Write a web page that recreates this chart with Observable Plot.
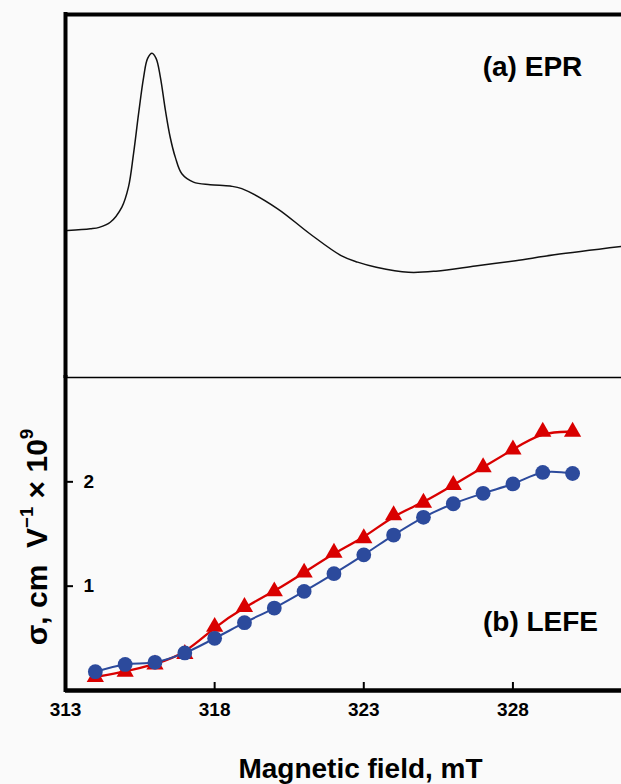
<!DOCTYPE html>
<html><head><meta charset="utf-8">
<script src="https://cdn.jsdelivr.net/npm/d3@7"></script>
<script src="https://cdn.jsdelivr.net/npm/@observablehq/plot@0.6"></script>
<style>
html,body{margin:0;padding:0;background:#fafafa;}
#wrap{position:relative;width:621px;height:784px;overflow:hidden;font-family:"Liberation Sans",Arial,sans-serif;}
#wrap svg{display:block;}
#ylab{position:absolute;left:37px;top:537px;transform:translate(-50%,-50%) rotate(-90deg);white-space:nowrap;font-weight:bold;font-size:30px;line-height:1;color:#000;}
#ylab sup{font-size:0.62em;vertical-align:0.75em;line-height:0;}
</style></head><body><div id="wrap"></div>
<script>
// EPR spectrum (panel a), arbitrary intensity units
const eprField = [313.07,313.83,314.13,314.50,314.89,315.11,315.28,315.45,315.62,315.75,315.90,316.04,316.18,316.35,316.51,316.68,316.90,317.29,317.85,318.52,318.91,320.10,321.18,322.24,322.79,323.42,324.50,325.42,326.74,328.09,329.39,331.64];
const eprSignal = [40.3,40.8,41.2,42.6,46.8,52.3,61.5,72.6,82.7,87.8,89.3,87.8,82.7,73.5,66.1,60.6,56.0,53.7,53.0,52.6,51.9,46.4,39.5,33.4,31.6,30.2,28.8,29.1,30.5,32.0,33.6,35.9];

// LEFE (panel b)
const lefeField = [314,315,316,317,318,319,320,321,322,323,324,325,326,327,328,329,330];
const lefeCircle = [0.18,0.25,0.27,0.36,0.50,0.65,0.79,0.95,1.12,1.30,1.49,1.66,1.79,1.89,1.98,2.09,2.08];
const lefeTriangle = [0.13,0.18,0.25,0.35,0.61,0.80,0.95,1.13,1.32,1.46,1.68,1.80,1.97,2.14,2.31,2.48,2.48];

const xTicks = [313,318,323,328];
const yTicks = [1,2];
const xDomain = [313, 331.64];
const eprDomain = [0, 100];
const lefeDomain = [0, 3];

const labelA = "(a) EPR";
const labelB = "(b) LEFE";
const xLabel = "Magnetic field, mT";

const epr = eprField.map((B, i) => ({B, I: eprSignal[i]}));
const lefe = lefeField.map((B, i) => ({B, c: lefeCircle[i], t: lefeTriangle[i]}));

const FONT = "Liberation Sans, Arial, sans-serif";
const RED = "#d90000", BLUE = "#2c4a9c";

const topPlot = Plot.plot({
  width: 621, height: 376,
  marginTop: 14, marginBottom: 0, marginLeft: 65, marginRight: 0,
  x: {domain: xDomain, axis: null},
  y: {domain: eprDomain, axis: null},
  style: {background: "transparent", fontFamily: FONT, overflow: "visible"},
  marks: [
    Plot.line(epr, {x: "B", y: "I", stroke: "#111", strokeWidth: 1.5, curve: "catmull-rom"}),
    Plot.ruleY([eprDomain[1]], {stroke: "#000", strokeWidth: 4}),
    Plot.ruleX([xDomain[0]], {stroke: "#000", strokeWidth: 4, strokeLinecap: "square"}),
    Plot.text([labelA], {frameAnchor: "top-right", dx: -89, dy: 53, textAnchor: "middle", lineAnchor: "middle", fontSize: 28, fontWeight: "bold", fill: "#000"})
  ]
});

const lowPlot = Plot.plot({
  width: 621, height: 408,
  marginTop: 1, marginBottom: 94, marginLeft: 65, marginRight: 0,
  x: {domain: xDomain},
  y: {domain: lefeDomain},
  style: {background: "transparent", fontFamily: FONT, overflow: "visible"},
  marks: [
    Plot.ruleY([lefeDomain[1]], {stroke: "#000", strokeWidth: 1.3}),
    Plot.axisX(xTicks, {anchor: "bottom", tickSize: 8, dy: -8, strokeWidth: 2, fill: "none", label: null}),
    Plot.axisX(xTicks, {anchor: "bottom", tickSize: 0, tickPadding: 12, tickFormat: (d) => String(d), fontSize: 19, fontWeight: "bold", fill: "#000", label: null}),
    Plot.axisY(yTicks, {anchor: "left", tickSize: 8, dx: 8, strokeWidth: 2, fill: "none", label: null}),
    Plot.axisY(yTicks, {anchor: "left", tickSize: 0, tickPadding: 0, dx: 18, textAnchor: "start", tickFormat: (d) => String(d), fontSize: 19, fontWeight: "bold", fill: "#000", label: null}),
    Plot.line(lefe, {x: "B", y: "t", stroke: RED, strokeWidth: 2.3, curve: "basis"}),
    Plot.dot(lefe, {x: "B", y: "t", symbol: "triangle", r: 6.4, fill: RED, stroke: "none"}),
    Plot.line(lefe, {x: "B", y: "c", stroke: BLUE, strokeWidth: 2, curve: "catmull-rom"}),
    Plot.dot(lefe, {x: "B", y: "c", r: 7.4, fill: BLUE, stroke: "none"}),
    Plot.ruleY([lefeDomain[0]], {stroke: "#000", strokeWidth: 4.5}),
    Plot.ruleX([xDomain[0]], {stroke: "#000", strokeWidth: 4, strokeLinecap: "square"}),
    Plot.text([labelB], {frameAnchor: "top-right", dx: -81, dy: 245, textAnchor: "middle", lineAnchor: "middle", fontSize: 28, fontWeight: "bold", fill: "#000"}),
    Plot.text([xLabel], {frameAnchor: "bottom", dx: 17, dy: 79, textAnchor: "middle", lineAnchor: "middle", fontSize: 28, fontWeight: "bold", fill: "#000"})
  ]
});

const wrap = document.getElementById("wrap");
wrap.appendChild(topPlot);
wrap.appendChild(lowPlot);
const yl = document.createElement("div");
yl.id = "ylab";
yl.innerHTML = "σ, cm&nbsp; V<sup>−1</sup> × 10<sup>9</sup>";
wrap.appendChild(yl);
</script>
</body></html>
